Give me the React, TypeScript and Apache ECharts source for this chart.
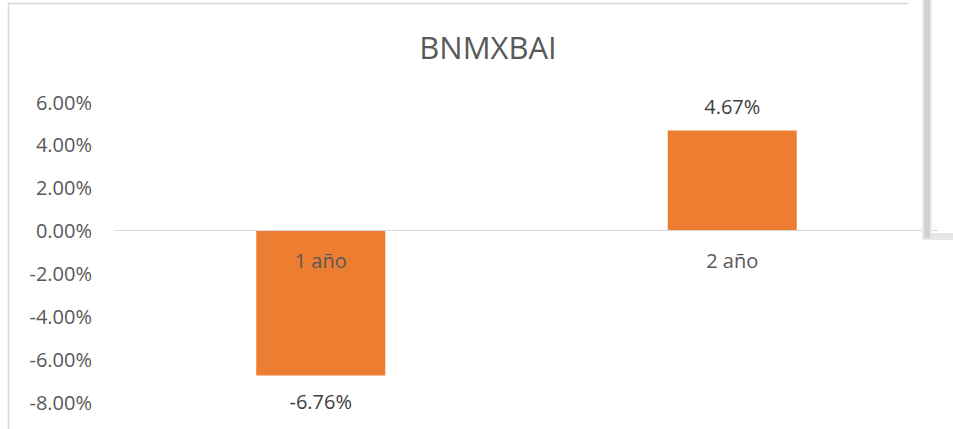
import React, { useEffect, useRef } from "react";
import * as echarts from "echarts";

const titleText = "BNMXBAI";
const categories = ["1 año", "2 año"];
const values = [-6.76, 4.67];
const yMin = -8;
const yMax = 6;
const yStep = 2;

const FONT = "'Open Sans', 'Noto Sans', sans-serif";
const GRID_TOP = 102;
const GRID_BOTTOM = 27;
const HEIGHT = 429;

export default function App() {
  const ref = useRef<HTMLDivElement>(null);
  useEffect(() => {
    if (!ref.current) return;
    const chart = echarts.init(ref.current, undefined, { renderer: "svg" });
    const gridH = HEIGHT - GRID_TOP - GRID_BOTTOM;
    const zeroOffset = -((0 - yMin) / (yMax - yMin)) * gridH;
    chart.setOption({
      animation: false,
      backgroundColor: "#ffffff",
      textStyle: { fontFamily: FONT },
      grid: {
        left: 115,
        right: 15,
        top: GRID_TOP,
        bottom: GRID_BOTTOM,
        containLabel: false,
        outerBoundsMode: "none",
      },
      xAxis: {
        type: "category",
        data: categories,
        position: "bottom",
        offset: zeroOffset,
        z: 5,
        axisLine: { show: true, onZero: false, lineStyle: { color: "#d9d9d9", width: 1 } },
        axisTick: { show: false },
        axisLabel: { color: "#595959", fontSize: 20, fontFamily: FONT, margin: 20 },
        splitLine: { show: false },
      },
      yAxis: {
        type: "value",
        min: yMin,
        max: yMax,
        interval: yStep,
        axisLine: { show: false },
        axisTick: { show: false },
        splitLine: { show: false },
        axisLabel: {
          color: "#595959",
          fontSize: 20,
          fontFamily: FONT,
          margin: 23,
          formatter: (v: number) => v.toFixed(2) + "%",
        },
      },
      series: [
        {
          type: "bar",
          barWidth: 129,
          itemStyle: { color: "#ed7d31" },
          data: values.map((v) => ({
            value: v,
            label: { position: v < 0 ? "bottom" : "top", distance: v < 0 ? 16 : 14 },
          })),
          label: {
            show: true,
            color: "#404040",
            fontSize: 20,
            fontFamily: FONT,
            formatter: (p: any) => Number(p.value).toFixed(2) + "%",
          },
        },
      ],
      graphic: [
        { type: "line", shape: { x1: 8, y1: 3.5, x2: 908, y2: 3.5 }, style: { stroke: "#d9d9d9", lineWidth: 1.5 }, silent: true },
        { type: "line", shape: { x1: 8.5, y1: 3, x2: 8.5, y2: 429 }, style: { stroke: "#d9d9d9", lineWidth: 1.5 }, silent: true },
        { type: "rect", shape: { x: 922, y: 0, width: 10, height: 240 }, style: { fill: "#ececec" }, silent: true, z: 10 },
        { type: "rect", shape: { x: 924, y: 0, width: 6, height: 238 }, style: { fill: "#d2d2d2" }, silent: true, z: 11 },
        { type: "rect", shape: { x: 924, y: 233, width: 29, height: 7 }, style: { fill: "#e6e6e6" }, silent: true, z: 10 },
        {
          type: "text",
          x: 488,
          y: 47,
          style: {
            text: titleText,
            fill: "#595959",
            font: `31px ${FONT}`,
            textAlign: "center",
            textVerticalAlign: "middle",
          },
        },
      ],
    });
    return () => chart.dispose();
  }, []);
  return (
    <div
      ref={ref}
      style={{ position: "absolute", left: 0, top: 0, width: 953, height: HEIGHT }}
    />
  );
}
